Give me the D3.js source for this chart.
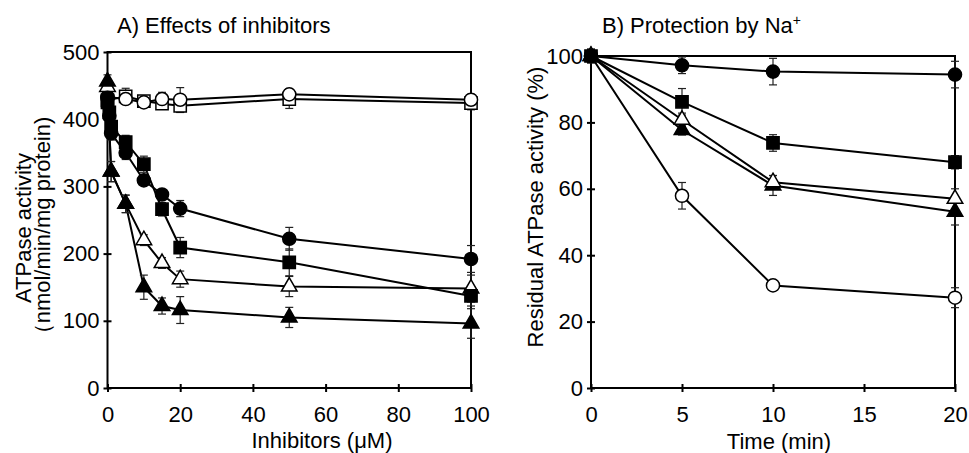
<!DOCTYPE html>
<html>
<head>
<meta charset="utf-8">
<script src="https://cdn.jsdelivr.net/npm/d3@7"></script>
<style>
  html, body { margin: 0; padding: 0; background: #fff; }
  svg { display: block; }
  text { font-family: "Liberation Sans", Arial, sans-serif; fill: #000; }
</style>
</head>
<body>
<svg id="chart" width="969" height="453"></svg>
<script>
// ---------- Panel A data: Effects of inhibitors ----------
const xA_filled = [0, 0.5, 1, 5, 10, 15, 20, 50, 100];
const xA_tri    = [0, 1, 5, 10, 15, 20, 50, 100];
const xA_open   = [0, 5, 10, 15, 20, 50, 100];

const openCircleA   = [433, 430, 425, 430, 429, 437, 429];
const openCircleAErr= [8, 8, 6, 10, 18, 8, 8];
const openSquareA   = [428, 434, 427, 423, 420, 430, 424];
const openSquareAErr= [8, 12, 6, 8, 10, 14, 10];
const filledCircleA = [432, 405, 379, 350, 309, 288, 267, 222, 192];
const filledCircleAErr = [10, 10, 10, 10, 6, 6, 12, 17, 20];
const filledSquareA = [425, 410, 389, 366, 333, 266, 209, 187, 137];
const filledSquareAErr = [10, 10, 10, 10, 12, 10, 15, 20, 15];
const openTriA      = [448, 322, 274, 220, 186, 162, 151, 148];
const openTriAErr   = [10, 15, 13, 8, 8, 12, 15, 20];
const filledTriA    = [456, 322, 274, 150, 122, 116, 105, 96];
const filledTriAErr = [10, 15, 13, 18, 12, 20, 15, 22];

const yTicksA = [0, 100, 200, 300, 400, 500];
const xTicksA = [0, 20, 40, 60, 80, 100];

// ---------- Panel B data: Protection by Na+ ----------
const xB = [0, 5, 10, 20];
const filledCircleB = [100, 97.2, 95.3, 94.4];
const filledCircleBErr = [2, 2.5, 4, 4];
const filledSquareB = [100, 86.2, 73.8, 68];
const filledSquareBErr = [2, 4, 2.5, 2];
const openTriB      = [100, 80.8, 62, 57];
const openTriBErr   = [2, 2, 2, 3];
const filledTriB    = [100, 77.7, 61, 53.1];
const filledTriBErr = [2, 1.5, 3, 4];
const openCircleB   = [100, 57.9, 30.9, 27.2];
const openCircleBErr= [2, 4, 1, 3];

const yTicksB = [0, 20, 40, 60, 80, 100];
const xTicksB = [0, 5, 10, 15, 20];

// ---------- drawing ----------
const svg = d3.select("#chart");

const sym = {
  circle: d3.symbol().type(d3.symbolCircle).size(135),
  square: d3.symbol().type(d3.symbolSquare).size(150),
  triangle: d3.symbol().type(d3.symbolTriangle).size(105)
};

function drawPanel(cfg) {
  const g = svg.append("g");
  const x = cfg.x, y = cfg.y;
  const [x0, x1] = x.range();
  const [y0, y1] = y.range();

  // frame
  g.append("rect")
    .attr("x", x0).attr("y", y1)
    .attr("width", x1 - x0).attr("height", y0 - y1)
    .attr("fill", "none").attr("stroke", "#000").attr("stroke-width", 2);

  // axes
  const ax = g.append("g").attr("transform", `translate(0,${y0})`)
    .call(d3.axisBottom(x).tickValues(cfg.xTicks).tickSize(4).tickPadding(cfg.xPad).tickFormat(d3.format("d")));
  ax.select(".domain").remove();
  ax.selectAll(".tick line").attr("y1", -4).attr("stroke", "#000").attr("stroke-width", 2);
  ax.selectAll(".tick text").attr("font-size", cfg.xTickSize).attr("font-family", "Liberation Sans, Arial, sans-serif").attr("fill", "#000");

  const ay = g.append("g").attr("transform", `translate(${x0},0)`)
    .call(d3.axisLeft(y).tickValues(cfg.yTicks).tickSize(4).tickPadding(cfg.yPad).tickFormat(d3.format("d")));
  ay.select(".domain").remove();
  ay.selectAll(".tick line").attr("x1", 4).attr("stroke", "#000").attr("stroke-width", 2);
  ay.selectAll(".tick text").attr("font-size", cfg.yTickSize).attr("font-family", "Liberation Sans, Arial, sans-serif").attr("fill", "#000");

  const line = d3.line().x(d => x(d.x)).y(d => y(d.y));

  const series = cfg.series.map(s => ({
    ...s,
    pts: s.xs.map((xv, i) => ({ x: xv, y: s.ys[i], e: s.err[i] }))
  }));

  // lines
  series.forEach(s => {
    g.append("path").datum(s.pts)
      .attr("d", line).attr("fill", "none")
      .attr("stroke", "#000").attr("stroke-width", 2);
  });

  // error bars
  series.forEach(s => {
    const eb = g.append("g").attr("stroke", "#222").attr("stroke-width", 1.2);
    s.pts.forEach(p => {
      const cx = x(p.x);
      eb.append("line").attr("x1", cx).attr("x2", cx).attr("y1", y(p.y - p.e)).attr("y2", y(p.y + p.e));
      eb.append("line").attr("x1", cx - 4).attr("x2", cx + 4).attr("y1", y(p.y + p.e)).attr("y2", y(p.y + p.e));
      eb.append("line").attr("x1", cx - 4).attr("x2", cx + 4).attr("y1", y(p.y - p.e)).attr("y2", y(p.y - p.e));
    });
  });

  // markers
  series.forEach(s => {
    g.append("g").selectAll("path").data(s.pts).join("path")
      .attr("transform", d => `translate(${x(d.x)},${y(d.y)})`)
      .attr("d", sym[s.shape]())
      .attr("fill", s.filled ? "#000" : "#fff")
      .attr("stroke", "#000").attr("stroke-width", 1.5);
  });

  return g;
}

const xA = d3.scaleLinear().domain([0, 100]).range([107.5, 471]);
const yA = d3.scaleLinear().domain([0, 500]).range([388, 52]);
const xBs = d3.scaleLinear().domain([0, 20]).range([591, 955]);
const yBs = d3.scaleLinear().domain([0, 100]).range([388, 56]);

const gA = drawPanel({
  x: xA, y: yA, xTicks: xTicksA, yTicks: yTicksA,
  xPad: 14, yPad: 4, xTickSize: 22, yTickSize: 22,
  series: [
    { xs: xA_open, ys: openSquareA, err: openSquareAErr, shape: "square", filled: false },
    { xs: xA_open, ys: openCircleA, err: openCircleAErr, shape: "circle", filled: false },
    { xs: xA_tri, ys: openTriA, err: openTriAErr, shape: "triangle", filled: false },
    { xs: xA_tri, ys: filledTriA, err: filledTriAErr, shape: "triangle", filled: true },
    { xs: xA_filled, ys: filledCircleA, err: filledCircleAErr, shape: "circle", filled: true },
    { xs: xA_filled, ys: filledSquareA, err: filledSquareAErr, shape: "square", filled: true }
  ]
});

const gB = drawPanel({
  x: xBs, y: yBs, xTicks: xTicksB, yTicks: yTicksB,
  xPad: 14, yPad: 4, xTickSize: 22, yTickSize: 22,
  series: [
    { xs: xB, ys: openCircleB, err: openCircleBErr, shape: "circle", filled: false },
    { xs: xB, ys: filledTriB, err: filledTriBErr, shape: "triangle", filled: true },
    { xs: xB, ys: openTriB, err: openTriBErr, shape: "triangle", filled: false },
    { xs: xB, ys: filledCircleB, err: filledCircleBErr, shape: "circle", filled: true },
    { xs: xB, ys: filledSquareB, err: filledSquareBErr, shape: "square", filled: true }
  ]
});

// titles & labels
svg.append("text").attr("x", 117).attr("y", 33).attr("font-size", 22).text("A) Effects of inhibitors");
const tB = svg.append("text").attr("x", 602).attr("y", 33).attr("font-size", 22);
tB.append("tspan").text("B) Protection by Na");
tB.append("tspan").attr("font-size", 14).attr("dy", -8).text("+");

svg.append("text").attr("x", 322).attr("y", 448).attr("text-anchor", "middle").attr("font-size", 22).text("Inhibitors (μM)");
svg.append("text").attr("x", 779).attr("y", 449).attr("text-anchor", "middle").attr("font-size", 22).text("Time (min)");

svg.append("text").attr("transform", "translate(31,228) rotate(-90)").attr("text-anchor", "middle").attr("font-size", 22).text("ATPase activity");
svg.append("text").attr("transform", "translate(50,231) rotate(-90)").attr("text-anchor", "middle").attr("font-size", 22).text("（nmol/min/mg protein)");
svg.append("text").attr("transform", "translate(543,207) rotate(-90)").attr("text-anchor", "middle").attr("font-size", 22).text("Residual ATPase activity (%)");
</script>
</body>
</html>
